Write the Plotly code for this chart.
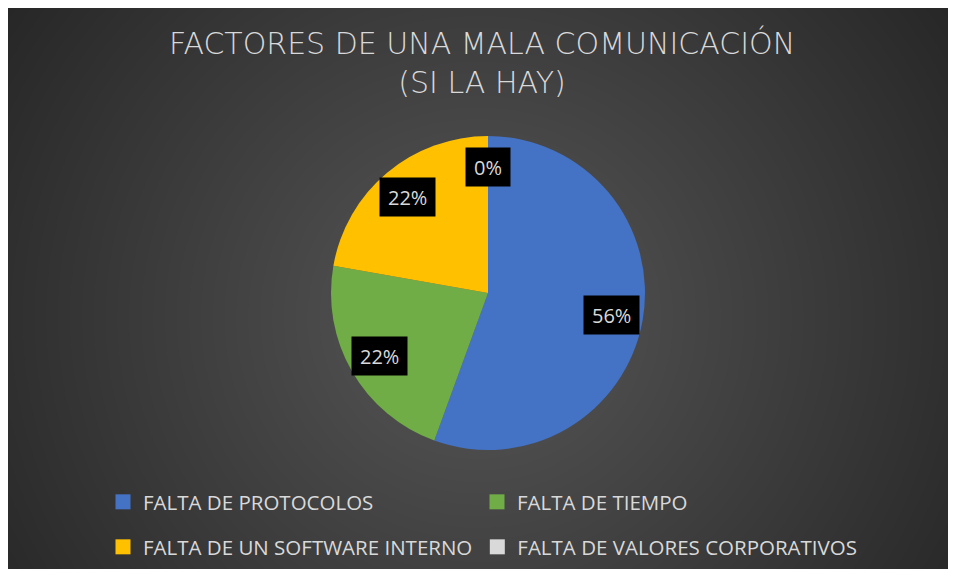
import numpy as np
import plotly.graph_objects as go

# ---- data ----
categories = ["FALTA DE PROTOCOLOS", "FALTA DE TIEMPO",
              "FALTA DE UN SOFTWARE INTERNO", "FALTA DE VALORES CORPORATIVOS"]
values = [5, 2, 2, 0]
colors = ["#4472C4", "#70AD47", "#FFC000", "#D9D9D9"]
title_lines = ["FACTORES DE UNA MALA COMUNICACIÓN", "(SI LA HAY)"]
legend_rows = [[0, 1], [2, 3]]

# page body has an 8px margin on every side
OX, OY = 8, 8
W, H = 956 - 2 * OX, 577 - 2 * OY
TXT = "#D9D9D9"


def px_x(wx):
    return (wx - OX) / W


def px_y(wy):
    return 1 - (wy - OY) / H


fig = go.Figure()

# background radial gradient (styling only)
gx = np.linspace(0, 1, 60)
gy = np.linspace(0, 1, 40)
GX, GY = np.meshgrid(gx, gy)
dist = np.sqrt(((GX - 0.5) * 1.0) ** 2 + ((GY - 0.45) * 0.62) ** 2)
fig.add_trace(go.Heatmap(x=gx, y=gy, z=dist, zsmooth="best", showscale=False,
                         colorscale=[[0, "#565656"], [0.5, "#3e3e3e"], [1, "#262626"]],
                         hoverinfo="skip", xaxis="x", yaxis="y"))

# pie geometry (window pixels)
cx_w, cy_w, R_px = 488, 293, 157
dom_x = [px_x(cx_w - R_px), px_x(cx_w + R_px)]
dom_y = [px_y(cy_w + R_px), px_y(cy_w - R_px)]

fig.add_trace(go.Pie(labels=categories, values=values, sort=False, direction="clockwise",
                     rotation=0, marker=dict(colors=colors, line=dict(width=0)),
                     textinfo="none", showlegend=False, domain=dict(x=dom_x, y=dom_y)))

# data labels with black boxes, positioned from the values
total = sum(values)
cum = 0
cxp, cyp = px_x(cx_w), px_y(cy_w)
for v in values:
    mid = (cum + v / 2) / total * 2 * np.pi
    cum += v
    rf = 0.8
    ax_ = cxp + rf * R_px * np.sin(mid) / W
    ay_ = cyp + rf * R_px * np.cos(mid) / H
    pct = round(100 * v / total)
    fig.add_annotation(x=ax_, y=ay_, xref="paper", yref="paper", text=f"{pct}%",
                       showarrow=False, bgcolor="#000000", borderpad=8, height=22,
                       xanchor="center", yanchor="middle",
                       font=dict(family="Open Sans", size=20, color=TXT))

# legend entries (two rows)
for li, row in enumerate(legend_rows):
    lname = "legend" if li == 0 else "legend2"
    for i in row:
        fig.add_trace(go.Scatter(x=[None], y=[None], mode="markers", name=categories[i],
                                 marker=dict(symbol="square", size=15, color=colors[i]),
                                 legend=lname, showlegend=True, hoverinfo="skip"))

leg_common = dict(orientation="h", xanchor="left", yanchor="middle",
                  bgcolor="rgba(0,0,0,0)",
                  font=dict(family="Open Sans", size=20.5, color=TXT), itemclick=False)

fig.update_layout(
    width=W, height=H,
    margin=dict(l=0, r=0, t=0, b=0),
    paper_bgcolor="#262626", plot_bgcolor="rgba(0,0,0,0)",
    xaxis=dict(domain=[0, 1], visible=False, range=[0.01, 0.99], fixedrange=True),
    yaxis=dict(domain=[0, 1], visible=False, range=[0.01, 0.99], fixedrange=True),
    title=dict(text="<br>".join(title_lines), x=px_x(482), xanchor="center",
               y=px_y(54), yanchor="top",
               font=dict(family="DejaVu Sans", size=30, color=TXT, weight=300)),
    legend=dict(x=px_x(103), y=px_y(502), entrywidth=329, entrywidthmode="pixels",
                **leg_common),
    legend2=dict(x=px_x(103), y=px_y(547), **leg_common),
    showlegend=True,
)

fig.write_html("out.html")
